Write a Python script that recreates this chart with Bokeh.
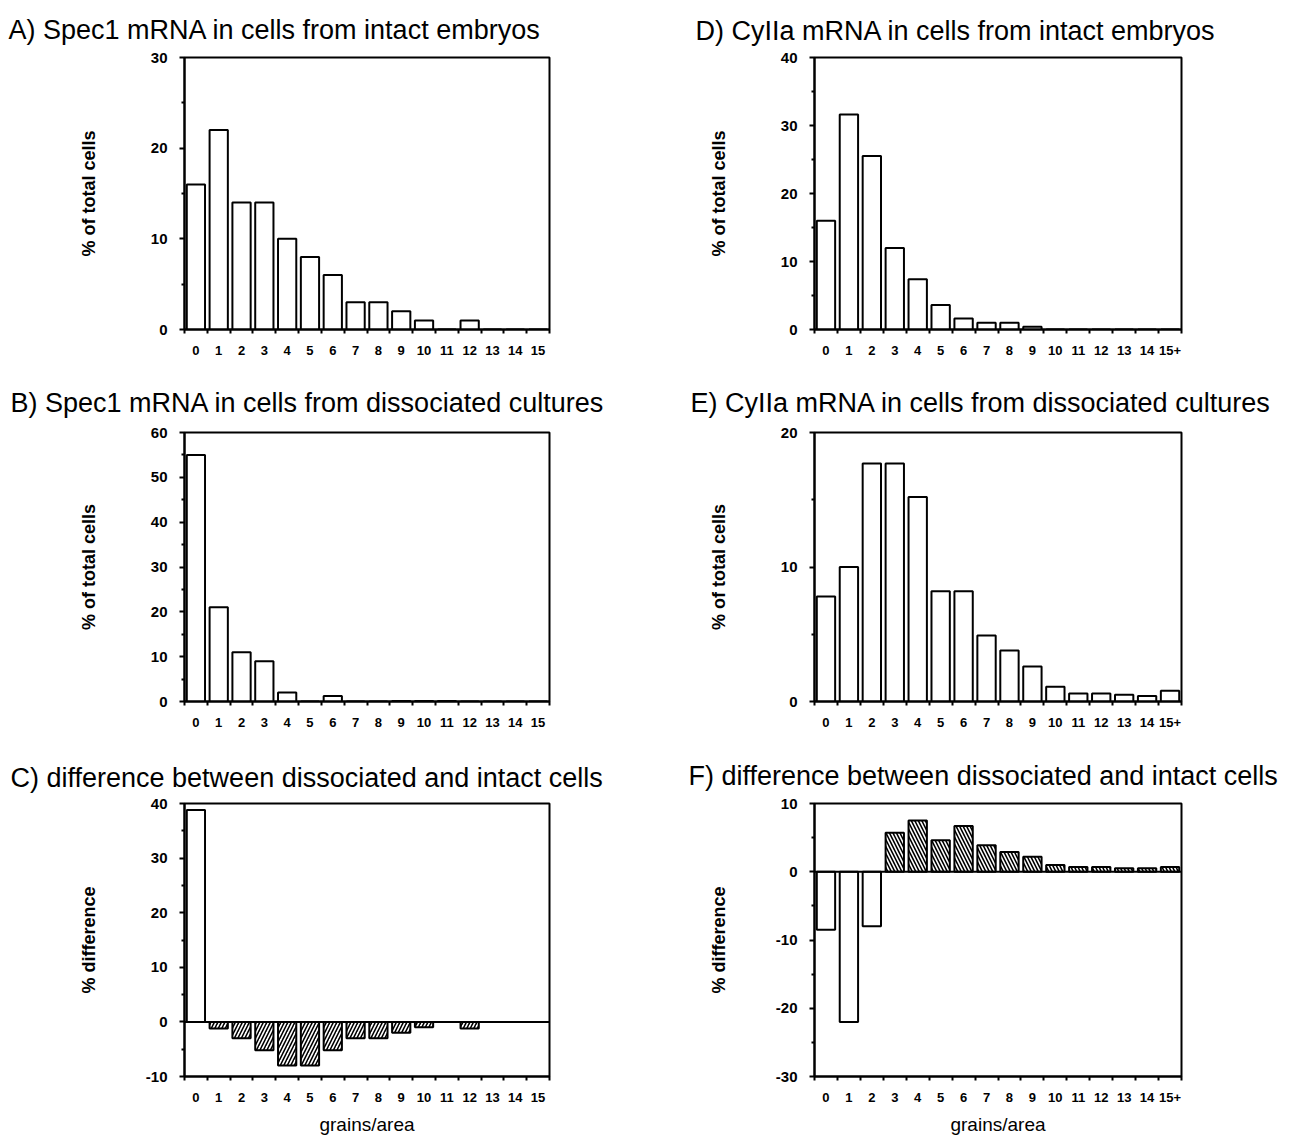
from bokeh.plotting import figure
from bokeh.models import Range1d, FixedTicker, Span, ColumnDataSource
from bokeh.layouts import row, column
from bokeh.embed import file_html
from bokeh.resources import INLINE

# ---------------- data ----------------
grains = list(range(16))
spec1_ticklabels = [str(i) for i in range(16)]
cyiia_ticklabels = [str(i) for i in range(15)] + ["15+"]

spec1_intact = [16, 22, 14, 14, 10, 8, 6, 3, 3, 2, 1, 0, 1, 0, 0, 0]
spec1_dissoc = [55, 21, 11, 9, 2, 0, 1.2, 0, 0, 0.1, 0.1, 0.1, 0, 0, 0, 0]
spec1_diff = [38.8, -1.2, -3, -5.2, -8, -8, -5.2, -3, -3, -2, -1, 0, -1.2, 0, 0, 0]

cyiia_intact = [16, 31.6, 25.5, 12, 7.4, 3.6, 1.6, 1.0, 1.0, 0.4, 0, 0, 0, 0, 0, 0]
cyiia_dissoc = [7.8, 10, 17.7, 17.7, 15.2, 8.2, 8.2, 4.9, 3.8, 2.6, 1.1, 0.6, 0.6, 0.5, 0.4, 0.8]
cyiia_diff = [-8.5, -22, -8, 5.7, 7.5, 4.6, 6.7, 3.9, 2.9, 2.2, 1.0, 0.7, 0.7, 0.5, 0.5, 0.7]

titles = {
    "A": "A) Spec1 mRNA in cells from intact embryos",
    "B": "B) Spec1 mRNA in cells from dissociated cultures",
    "C": "C) difference between dissociated and intact cells",
    "D": "D) CyIIa mRNA in cells from intact embryos",
    "E": "E) CyIIa mRNA in cells from dissociated cultures",
    "F": "F) difference between dissociated and intact cells",
}

FONT = "Liberation Sans"


def panel(vals, ticklabels, title, ylabel, yrange, yticks, yminor, width, height,
          bl, br, bt, bb, title_off, title_standoff, hatch_neg=" ", hatch_pos=" ",
          xlabel=None, ylab_standoff=49, zero_line=False):
    p = figure(width=width, height=height, output_backend="svg", toolbar_location=None,
               x_range=Range1d(-0.5, 15.5), y_range=Range1d(*yrange),
               min_border_left=bl, min_border_right=br, min_border_top=bt,
               min_border_bottom=bb, tools="")
    p.title.text = title
    p.title.align = "left"
    p.title.offset = title_off
    p.title.text_font = FONT
    p.title.text_font_size = "27px"
    p.title.text_font_style = "normal"
    p.title.text_color = "black"
    p.title.standoff = title_standoff

    hatches = [hatch_neg if v < 0 else hatch_pos for v in vals]
    src = ColumnDataSource(dict(x=grains, top=vals, hatch=hatches))
    p.vbar(x="x", top="top", bottom=0, width=0.8, source=src,
           fill_color="white", line_color="black", line_width=2,
           hatch_pattern="hatch", hatch_color="black", hatch_scale=7, hatch_weight=1.6)

    if zero_line:
        p.add_layout(Span(location=0, dimension="width", line_color="black", line_width=2))

    p.grid.visible = False
    p.outline_line_color = "black"
    p.outline_line_width = 2
    p.outline_line_alpha = 1

    xa = p.xaxis[0]
    xa.ticker = FixedTicker(ticks=grains, minor_ticks=[i - 0.5 for i in range(17)])
    xa.major_label_overrides = {i: t for i, t in zip(grains, ticklabels)}
    xa.major_tick_line_color = None
    xa.major_tick_out = 0
    xa.major_tick_in = 0
    xa.minor_tick_out = 4
    xa.minor_tick_in = 0
    xa.minor_tick_line_width = 2
    xa.minor_tick_line_color = "black"
    xa.axis_line_width = 2
    xa.axis_line_color = "black"
    xa.major_label_text_font = FONT
    xa.major_label_text_font_style = "bold"
    xa.major_label_text_font_size = "13px"
    xa.major_label_text_color = "black"
    xa.major_label_standoff = 12
    if xlabel:
        xa.axis_label = xlabel
        xa.axis_label_text_font = FONT
        xa.axis_label_text_font_style = "normal"
        xa.axis_label_text_font_size = "19px"
        xa.axis_label_text_color = "black"
        xa.axis_label_standoff = 9

    ya = p.yaxis[0]
    ya.ticker = FixedTicker(ticks=yticks, minor_ticks=yminor)
    ya.major_label_overrides = {t: str(t) for t in yticks}
    ya.major_tick_out = 5
    ya.major_tick_in = 0
    ya.minor_tick_out = 3
    ya.minor_tick_in = 0
    ya.major_tick_line_width = 2
    ya.minor_tick_line_width = 2
    ya.axis_line_width = 2
    ya.axis_line_color = "black"
    ya.major_label_text_font = FONT
    ya.major_label_text_font_style = "bold"
    ya.major_label_text_font_size = "15px"
    ya.major_label_text_color = "black"
    ya.major_label_standoff = 12
    ya.axis_label = ylabel
    ya.axis_label_text_font = FONT
    ya.axis_label_text_font_style = "bold"
    ya.axis_label_text_font_size = "18px"
    ya.axis_label_text_color = "black"
    ya.axis_label_standoff = ylab_standoff
    return p


LW, RW = 640, 658
pA = panel(spec1_intact, spec1_ticklabels, titles["A"], "% of total cells", (0, 30),
           [0, 10, 20, 30], [5, 15, 25], LW, 368, 184, 91, 57, 37, -176, 25)
pD = panel(cyiia_intact, cyiia_ticklabels, titles["D"], "% of total cells", (0, 40),
           [0, 10, 20, 30, 40], [5, 15, 25, 35], RW, 368, 174, 117, 54, 39, -119, 23)
pB = panel(spec1_dissoc, spec1_ticklabels, titles["B"], "% of total cells", (0, 60),
           [0, 10, 20, 30, 40, 50, 60], [5, 15, 25, 35, 45, 55], LW, 377, 184, 91, 61, 44, -174, 30)
pE = panel(cyiia_dissoc, cyiia_ticklabels, titles["E"], "% of total cells", (0, 20),
           [0, 10, 20], [5, 15], RW, 377, 174, 117, 64, 42, -124, 30)
pC = panel(spec1_diff, spec1_ticklabels, titles["C"], "% difference", (-10, 40),
           [-10, 0, 10, 20, 30, 40], [-5, 5, 15, 25, 35], LW, 392, 184, 91, 58, 57, -174, 22,
           hatch_neg="/", xlabel="grains/area", ylab_standoff=44, zero_line=True)
pF = panel(cyiia_diff, cyiia_ticklabels, titles["F"], "% difference", (-30, 10),
           [-30, -20, -10, 0, 10], [-25, -15, -5, 5], RW, 392, 174, 117, 58, 56, -126, 25,
           hatch_pos="\\", xlabel="grains/area", ylab_standoff=44, zero_line=True)

layout = column(row(pA, pD), row(pB, pE), row(pC, pF))

with open("out.html", "w") as f:
    f.write(file_html(layout, INLINE))
